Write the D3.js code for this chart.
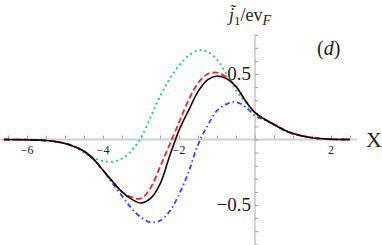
<!DOCTYPE html>
<html>
<head>
<meta charset="utf-8">
<script src="https://cdn.jsdelivr.net/npm/d3@7"></script>
<style>
  body { margin: 0; background: #fff; }
</style>
</head>
<body>
<div id="content"></div>
<script>
// sample positions along X
var xVals = [-6.6, -6, -5.5, -5, -4.75, -4.5, -4.25, -4, -3.75, -3.5, -3.25, -3, -2.75, -2.5, -2.25, -2,
  -1.75, -1.5, -1.25, -1, -0.75, -0.5, -0.25, 0, 0.25, 0.5, 0.75, 1, 1.5, 2, 2.5];

var blackVals = [0, -0.002, -0.008, -0.03, -0.055, -0.09, -0.15, -0.235, -0.32, -0.40, -0.455, -0.485, -0.45, -0.34, -0.13, 0.07,
  0.22, 0.365, 0.455, 0.485, 0.465, 0.405, 0.295, 0.205, 0.155, 0.115, 0.075, 0.045, 0.013, 0.002, 0];
var redVals = [0, -0.002, -0.008, -0.03, -0.055, -0.09, -0.15, -0.235, -0.32, -0.40, -0.44, -0.45, -0.37, -0.21, -0.04, 0.13,
  0.30, 0.43, 0.50, 0.51, 0.475, 0.405, 0.295, 0.205, 0.155, 0.115, 0.075, 0.045, 0.013, 0.002, 0];
var greenVals = [0, -0.002, -0.008, -0.03, -0.055, -0.10, -0.14, -0.165, -0.17, -0.145, -0.085, 0.015, 0.17, 0.33, 0.46, 0.565,
  0.64, 0.68, 0.67, 0.61, 0.50, 0.375, 0.285, 0.205, 0.155, 0.115, 0.075, 0.045, 0.013, 0.002, 0];
var blueVals = [0, -0.002, -0.008, -0.03, -0.055, -0.09, -0.15, -0.235, -0.335, -0.43, -0.525, -0.595, -0.632, -0.62, -0.55, -0.42,
  -0.25, -0.04, 0.105, 0.22, 0.27, 0.285, 0.25, 0.18, 0.15, 0.115, 0.075, 0.045, 0.013, 0.002, 0];

var xLabels = [-6, -4, -2, 2];
var yLabels = [0.5, -0.5];

var width = 382, height = 245;
var serif = "'Liberation Serif', 'Times New Roman', serif";

var svg = d3.select("#content")
  .append("svg")
    .attr("width", width)
    .attr("height", height)
    .attr("font-family", serif);

var x = d3.scaleLinear().domain([-6, 2]).range([27, 331]);
var y = d3.scaleLinear().domain([-0.5, 0.5]).range([205, 74]);

// x axis
svg.append("line")
  .attr("x1", 0).attr("x2", 357)
  .attr("y1", y(0)).attr("y2", y(0))
  .attr("stroke", "#cfcfcf").attr("stroke-width", 2);

var xAxis = svg.append("g")
  .attr("transform", "translate(0," + (y(0) - 1) + ")")
  .call(d3.axisTop(x).tickValues(d3.range(-6.5, 2.6, 0.5)).tickSize(3).tickFormat(""));
xAxis.select(".domain").remove();
xAxis.selectAll("line").attr("stroke", "#999");

svg.selectAll(".xlab")
  .data(xLabels)
  .enter().append("text")
    .attr("class", "xlab")
    .attr("x", function(d){ return x(d); })
    .attr("y", 154)
    .attr("text-anchor", "middle")
    .attr("font-size", 12)
    .attr("fill", "#222")
    .text(function(d){ return d < 0 ? "\u2212" + (-d) : d; });

// y axis
svg.append("line")
  .attr("x1", x(0)).attr("x2", x(0))
  .attr("y1", 35).attr("y2", 245)
  .attr("stroke", "#aaa").attr("stroke-width", 1);

var yAxis = svg.append("g")
  .attr("transform", "translate(" + x(0) + ",0)")
  .call(d3.axisRight(y).tickValues(d3.range(-8, 9).map(function(d){ return d / 10; })).tickSize(3).tickFormat(""));
yAxis.select(".domain").remove();
yAxis.selectAll("line").attr("stroke", "#999");

svg.selectAll(".ylab")
  .data(yLabels)
  .enter().append("text")
    .attr("class", "ylab")
    .attr("x", x(0) - 4)
    .attr("y", function(d){ return y(d) + 6; })
    .attr("text-anchor", "end")
    .attr("font-size", 19)
    .attr("fill", "#222")
    .text(function(d){ return d < 0 ? "\u2212" + (-d) : d; });

// curves
var line = d3.line()
  .x(function(d){ return x(d[0]); })
  .y(function(d){ return y(d[1]); })
  .curve(d3.curveCatmullRom.alpha(0.5));

function series(vals){ return xVals.map(function(v, i){ return [v, vals[i]]; }); }

svg.append("path").datum(series(greenVals))
  .attr("d", line).attr("fill", "none")
  .attr("stroke", "#22d27e").attr("stroke-width", 2.2)
  .attr("stroke-linecap", "round").attr("stroke-dasharray", "0.1,5");

svg.append("path").datum(series(blueVals))
  .attr("d", line).attr("fill", "none")
  .attr("stroke", "#2a46f0").attr("stroke-width", 1.8)
  .attr("stroke-dasharray", "5,3,1.5,3");

svg.append("path").datum(series(redVals))
  .attr("d", line).attr("fill", "none")
  .attr("stroke", "#ee2424").attr("stroke-width", 1.8)
  .attr("stroke-dasharray", "6,3");

svg.append("path").datum(series(blackVals))
  .attr("d", line).attr("fill", "none")
  .attr("stroke", "#1a0505").attr("stroke-width", 1.6);

// labels
var ylab = svg.append("text")
  .attr("x", 229).attr("y", 21)
  .attr("font-size", 18).attr("fill", "#222");
ylab.append("tspan").attr("font-style", "italic").text("j\u0303");
ylab.append("tspan").attr("font-size", 13).attr("dy", 4).text("1");
ylab.append("tspan").attr("dy", -4).text("/ev");
ylab.append("tspan").attr("font-size", 14).attr("font-style", "italic").attr("dy", 4).text("F");

var dlab = svg.append("text")
  .attr("x", 317).attr("y", 55)
  .attr("font-size", 20).attr("fill", "#222");
dlab.append("tspan").text("(");
dlab.append("tspan").attr("font-style", "italic").text("d");
dlab.append("tspan").text(")");

svg.append("text")
  .attr("x", 366).attr("y", 147)
  .attr("font-size", 22).attr("fill", "#222")
  .text("X");
</script>
</body>
</html>
